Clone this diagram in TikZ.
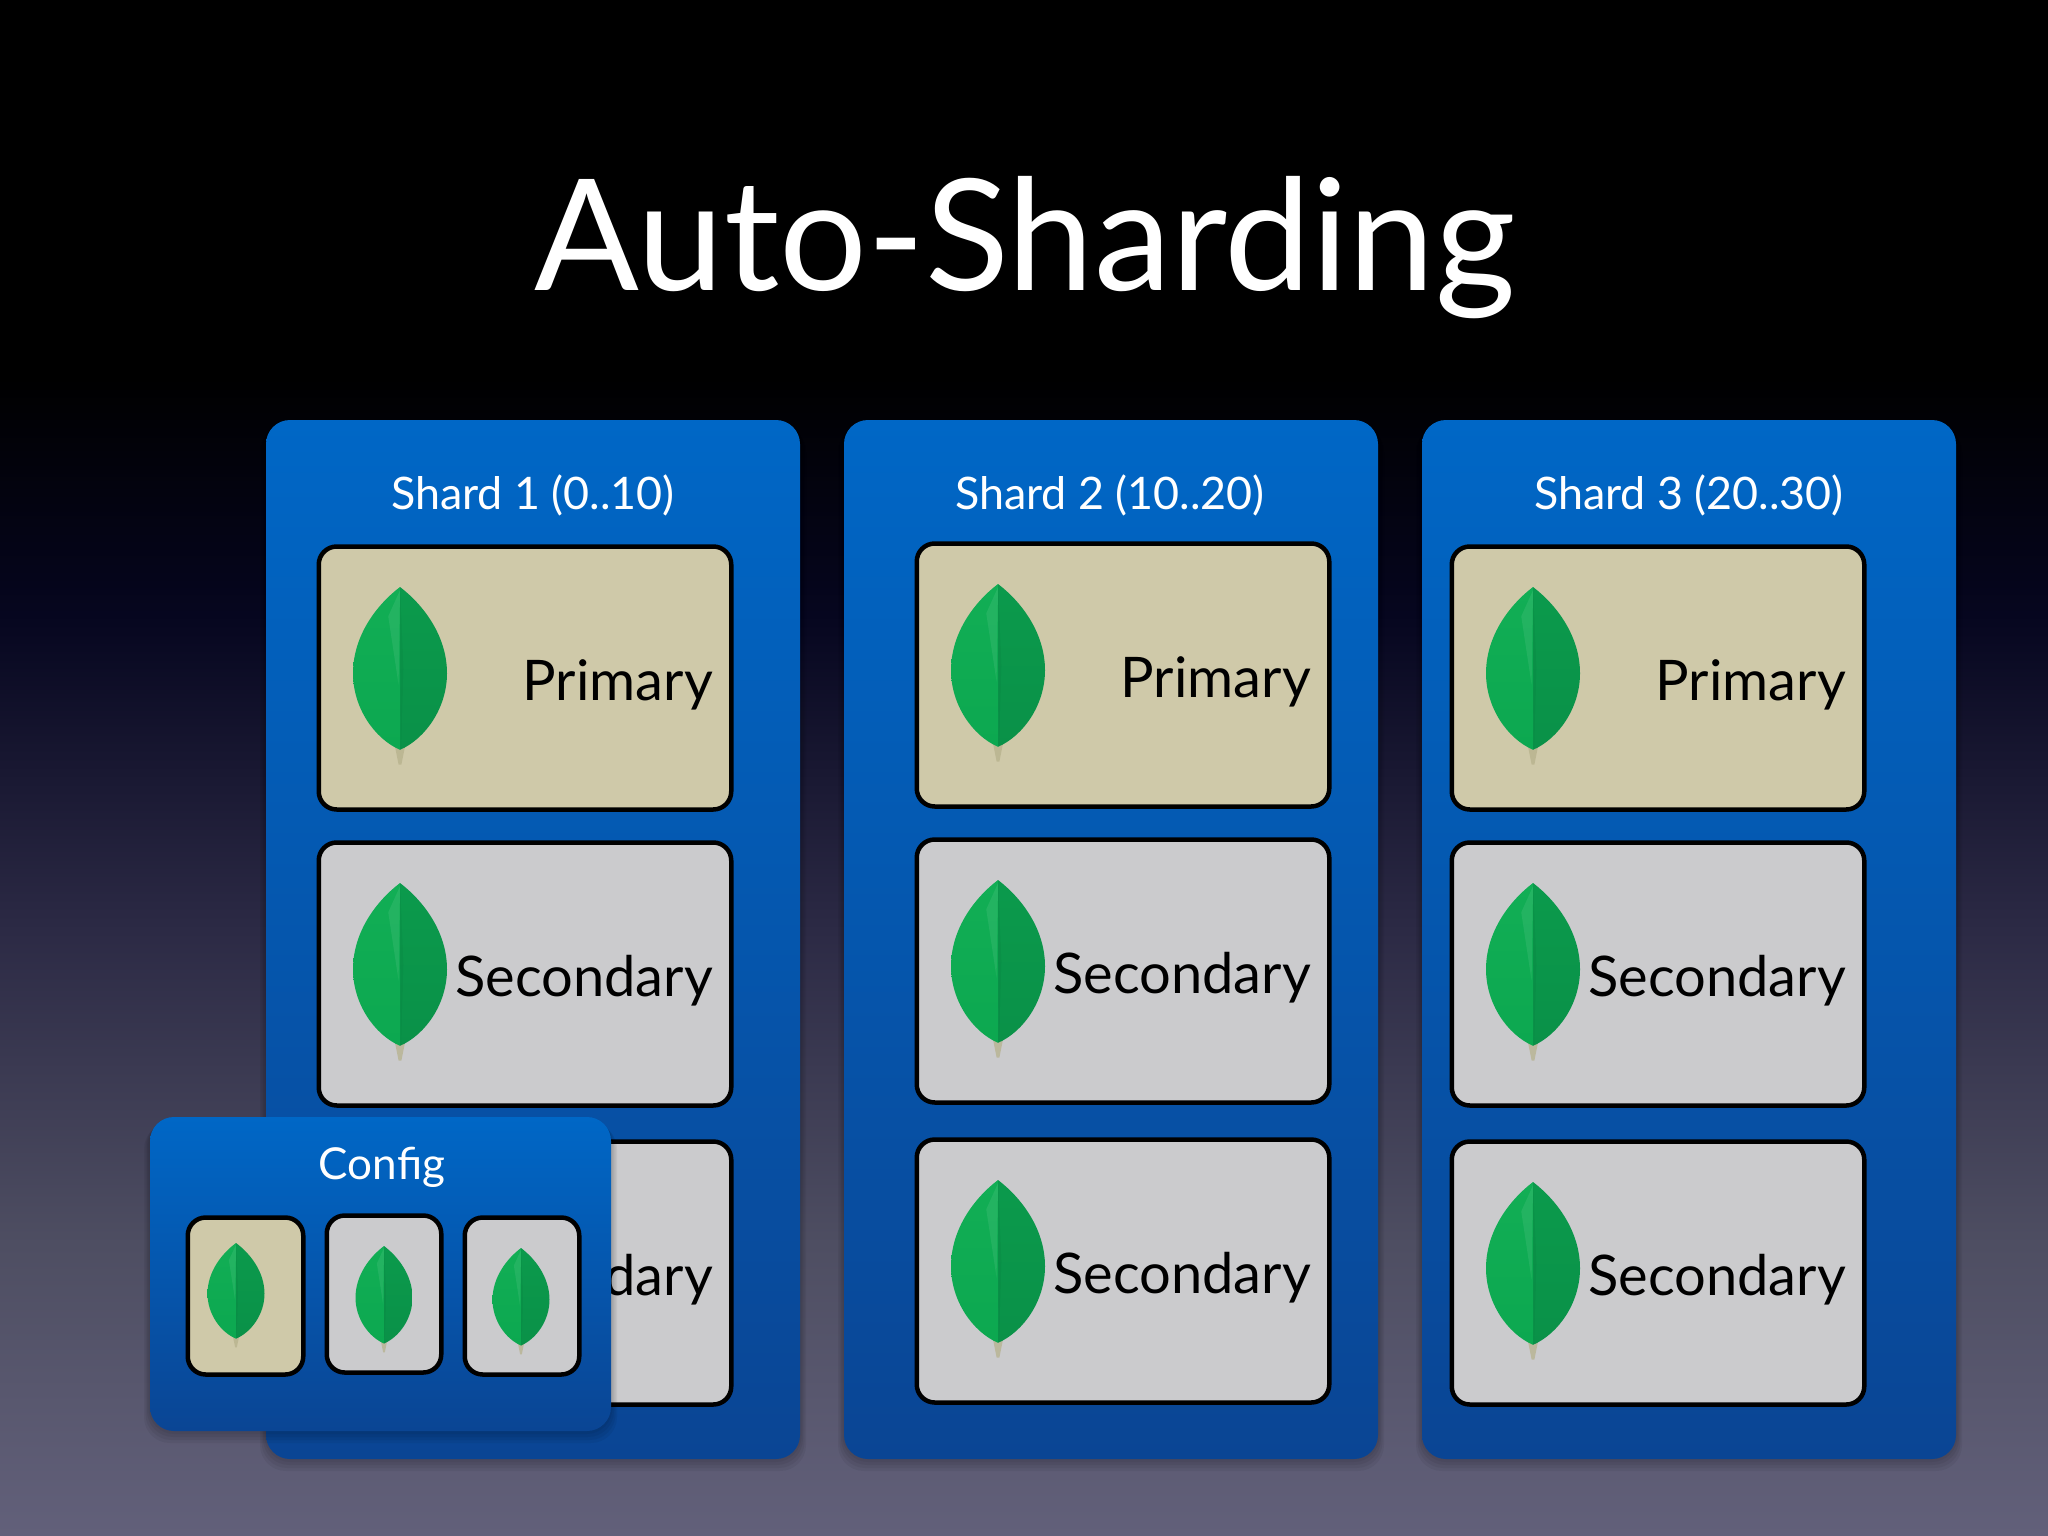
\documentclass[tikz,border=0pt]{standalone}
\usepackage{fontspec}
\setmainfont{Lato}
\usetikzlibrary{calc}
\definecolor{pri}{HTML}{CFC9A9}
\definecolor{sec}{HTML}{CBCBCD}
\definecolor{ptop}{HTML}{0067C6}
\definecolor{pbot}{HTML}{0A4594}
\definecolor{bgA}{HTML}{62607A}
\definecolor{bgB}{HTML}{4E4E62}
\definecolor{bgC}{HTML}{2C2A45}
\definecolor{bgD}{HTML}{06061F}
\definecolor{bgE}{HTML}{000000}
\definecolor{stemc}{HTML}{B5B08A}
\definecolor{leafLt}{HTML}{12AE55}
\definecolor{leafLb}{HTML}{0CA850}
\definecolor{leafRt}{HTML}{0B9A4C}
\definecolor{leafRb}{HTML}{0A9148}
\pgfdeclareverticalshading{bgshade}{100bp}{
 color(0bp)=(bgA); color(25bp)=(bgA); color(34.5bp)=(bgB); color(44.7bp)=(bgC); color(55bp)=(bgD); color(62.7bp)=(bgE); color(100bp)=(bgE)}
\tikzset{
 panelbox/.style={rounded corners=24pt,draw=none,top color=ptop,bottom color=pbot,inner sep=0pt,outer sep=0pt},
 hostbox/.style={rounded corners=18pt,draw=black,line width=4.5pt,inner sep=0pt,outer sep=0pt},
 pribox/.style={hostbox,fill=pri},
 secbox/.style={hostbox,fill=sec},
 title/.style={text=white,inner sep=0pt,anchor=base,font=\fontsize{155}{180}\selectfont},
 panellabel/.style={text=white,inner sep=0pt,anchor=base,font=\fontsize{44.8}{50}\selectfont},
 hostlabel/.style={text=black,inner sep=0pt,anchor=base east,font=\fontsize{56}{64}\selectfont},
}
% name, x1, y1, x2, y2, style (outer edges)
\newcommand{\rbox}[6]{%
 \pgfmathsetmacro{\cxx}{(#2+#4)/2}\pgfmathsetmacro{\cyy}{(#3+#5)/2}%
 \pgfmathsetmacro{\bw}{#4-#2}\pgfmathsetmacro{\bh}{#5-#3}%
 \node[#6,minimum width=\bw pt,minimum height=\bh pt] (#1) at (\cxx,\cyy) {};}
\newcommand{\hostb}[6]{%
 \pgfmathsetmacro{\cxx}{(#2+#4)/2}\pgfmathsetmacro{\cyy}{(#3+#5)/2}%
 \pgfmathsetmacro{\bw}{#4-#2-3.5}\pgfmathsetmacro{\bh}{#5-#3-3}%
 \node[#6,minimum width=\bw pt,minimum height=\bh pt] (#1) at (\cxx,\cyy) {};}
% panel shadow
\newcommand{\pshadow}[4]{%
 \foreach \g in {12,9,6,3}{%
  \fill[black,opacity=.05,rounded corners=26pt] (#1-\g/2,#2+\g/2) rectangle (#3+\g/2,#4+\g);}}
% leaf: centre x, top y, width, total height
\newcommand{\leafat}[4]{%
 \begin{scope}[shift={(#1,#2)},xscale=#3/2,yscale=#4*0.92]
  \fill[stemc,opacity=.7] (-.12,.96) -- (.12,.96) -- (.03,1.09) -- (-.03,1.09) -- cycle;
  \shade[top color=leafLt,bottom color=leafLb]
    (0,0) .. controls (-.5,.11) and (-1,.30) .. (-1,.53) .. controls (-1,.74) and (-.55,.93) .. (0,1) -- cycle;
  \shade[top color=leafRt,bottom color=leafRb]
    (0,0) .. controls (.5,.11) and (1,.30) .. (1,.53) .. controls (1,.74) and (.55,.93) .. (0,1) -- cycle;
  \fill[white,opacity=.08] (0,.02) -- (-.25,.18) -- (-.03,.60) -- cycle;
  \fill[black,opacity=.04] (0,0) -- (.07,.5) -- (.02,1) -- cycle;
 \end{scope}}
% host: name, x1, y1, kind style, text
\newcommand{\host}[5]{%
 \pgfmathsetmacro{\xr}{#2+416}\pgfmathsetmacro{\yb}{#3+266}%
 \hostb{#1}{#2}{#3}{\xr}{\yb}{#4}%
 \pgfmathsetmacro{\lx}{#2+83}\pgfmathsetmacro{\ly}{#3+42}%
 \leafat{\lx}{\ly}{94}{177}%
 \pgfmathsetmacro{\tx}{#2+396}\pgfmathsetmacro{\ty}{#3+155}%
 \node[hostlabel] (#1t) at (\tx,\ty) {#5};}
\begin{document}
\begin{tikzpicture}[x=1pt,y=-1pt]
\useasboundingbox (0,0) rectangle (2048,1536);
\shade[shading=bgshade] (0,0) rectangle (2048,1536);
\node[title] (ttl) at (1025,290) {Auto-Sharding};
% shard panels
\pshadow{266}{420}{800}{1459}
\rbox{s1}{266}{420}{800}{1459}{panelbox}
\pshadow{844}{420}{1378}{1459}
\rbox{s2}{844}{420}{1378}{1459}{panelbox}
\pshadow{1422}{420}{1956}{1459}
\rbox{s3}{1422}{420}{1956}{1459}{panelbox}
\node[panellabel] (s1t) at (533,509) {Shard 1 (0..10)};
\node[panellabel] (s2t) at (1110,509) {Shard 2 (10..20)};
\node[panellabel] (s3t) at (1689,509) {Shard 3 (20..30)};
\host{a1}{317}{545}{pribox}{Primary}
\host{a2}{317}{841}{secbox}{Secondary}
\host{a3}{317}{1140}{secbox}{Secondary}
\host{b1}{915}{542}{pribox}{Primary}
\host{b2}{915}{838}{secbox}{Secondary}
\host{b3}{915}{1138}{secbox}{Secondary}
\host{c1}{1450}{545}{pribox}{Primary}
\host{c2}{1450}{841}{secbox}{Secondary}
\host{c3}{1450}{1140}{secbox}{Secondary}
% config panel
\pshadow{150}{1117}{611}{1431}
\rbox{cfg}{150}{1117}{611}{1431}{panelbox}
\node[panellabel,font=\fontsize{44}{48}\selectfont] (cfgt) at (382,1179) {Config};
\hostb{k1}{186}{1216}{305}{1376}{pribox}
\hostb{k2}{325}{1214}{443}{1374}{secbox}
\hostb{k3}{463}{1216}{581}{1376}{secbox}
\leafat{236}{1243}{57}{104}
\leafat{384}{1246}{57}{106}
\leafat{521}{1248}{57}{106}
\end{tikzpicture}
\end{document}
